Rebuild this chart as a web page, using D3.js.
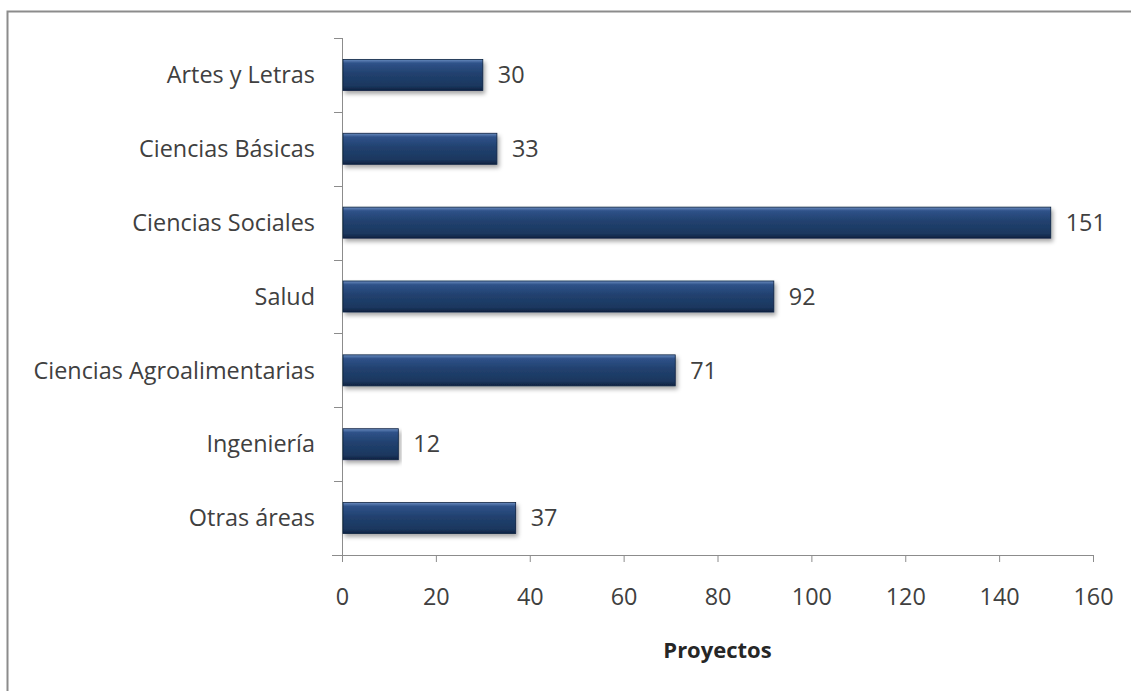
<!DOCTYPE html>
<html><head><meta charset="utf-8">
<script src="https://cdn.jsdelivr.net/npm/d3@7"></script>
<style>body{margin:0;background:#fff;}svg{display:block;font-family:"Open Sans",Lato,sans-serif;}</style>
</head><body>
<svg id="c" width="1131" height="691"></svg>
<script>
const categories = ["Artes y Letras","Ciencias Básicas","Ciencias Sociales","Salud","Ciencias Agroalimentarias","Ingeniería","Otras áreas"];
const values = [30,33,151,92,71,12,37];
const xTicks = [0,20,40,60,80,100,120,140,160];
const axisTitle = "Proyectos";

const svg = d3.select("#c");
const W = 1131, H = 691;
const m = {left:342, right:W-1093, top:38, bottom:H-555};
const FS = 23.4;

svg.append("rect").attr("x",7.5).attr("y",11.5).attr("width",W+10).attr("height",H+10)
  .attr("fill","#fff").attr("stroke","#8c8c8c").attr("stroke-width",2);

const defs = svg.append("defs");
const g1 = defs.append("linearGradient").attr("id","bar").attr("x1",0).attr("y1",0).attr("x2",0).attr("y2",1);
[[0,"#6a8cc0"],[0.12,"#2f5289"],[0.45,"#21416f"],[0.85,"#1b375f"],[1,"#0e2241"]].forEach(([o,c])=>g1.append("stop").attr("offset",o).attr("stop-color",c));
const f = defs.append("filter").attr("id","sh").attr("x","-5%").attr("y","-20%").attr("width","110%").attr("height","160%");
f.append("feDropShadow").attr("dx",2).attr("dy",3).attr("stdDeviation",2).attr("flood-color","#000").attr("flood-opacity",0.35);

const x = d3.scaleLinear().domain([0,160]).range([m.left, W-m.right]);
const y = d3.scaleBand().domain(categories).range([m.top, H-m.bottom]).paddingInner(0.58).paddingOuter(0.29);

const gx = svg.append("g").attr("transform",`translate(0,${H-m.bottom})`)
  .call(d3.axisBottom(x).tickValues(xTicks).tickSize(7).tickPadding(26));
gx.select(".domain").attr("stroke","#8c8c8c").attr("d",`M${m.left-10},0.5H${W-m.right}`);
gx.selectAll(".tick line").attr("stroke","#8c8c8c");
gx.selectAll("text").attr("font-size",FS).attr("fill","#404040").attr("font-family","'Open Sans',sans-serif");

// y axis
const yLine = svg.append("g");
yLine.append("line").attr("x1",m.left+0.5).attr("x2",m.left+0.5).attr("y1",m.top).attr("y2",H-m.bottom+7).attr("stroke","#8c8c8c");
d3.range(0,categories.length).forEach(i=>{
  const yy = m.top + (H-m.top-m.bottom)*i/categories.length;
  yLine.append("line").attr("x1",m.left-8).attr("x2",m.left).attr("y1",Math.round(yy)+0.5).attr("y2",Math.round(yy)+0.5).attr("stroke","#8c8c8c");
});

svg.append("g").selectAll("text").data(categories).join("text")
  .attr("x",315).attr("y",d=>y(d)+y.bandwidth()/2).attr("dy","0.35em")
  .attr("text-anchor","end").attr("font-size",FS).attr("fill","#404040").text(d=>d);

const bars = svg.append("g");
bars.selectAll("rect").data(categories).join("rect")
  .attr("x",x(0)+1).attr("y",d=>y(d)).attr("width",(d,i)=>x(values[i])-x(0)-1).attr("height",y.bandwidth())
  .attr("fill","url(#bar)").attr("stroke","#0e2241").attr("stroke-width",0.8).attr("filter","url(#sh)");

svg.append("g").selectAll("text").data(categories).join("text")
  .attr("x",(d,i)=>x(values[i])+15).attr("y",d=>y(d)+y.bandwidth()/2).attr("dy","0.35em")
  .attr("font-size",FS).attr("fill","#404040").text((d,i)=>values[i]);

svg.append("text").attr("x",(x(0)+x(160))/2).attr("y",650).attr("dy","0.35em").attr("text-anchor","middle")
  .attr("font-size",22).attr("font-weight","bold").attr("fill","#262626").text(axisTitle);
</script>
</body></html>
